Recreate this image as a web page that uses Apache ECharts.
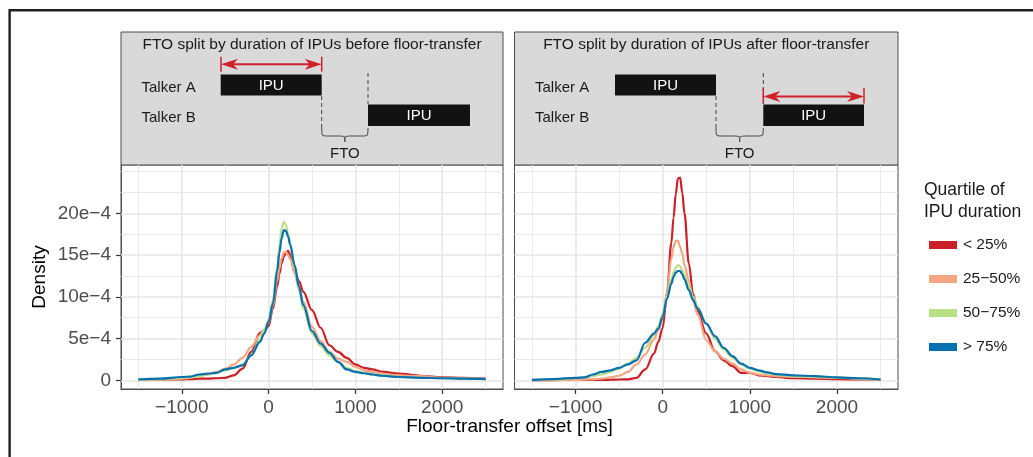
<!DOCTYPE html>
<html><head><meta charset="utf-8">
<script src="https://cdn.jsdelivr.net/npm/echarts@6.0.0/dist/echarts.min.js"></script>
<style>html,body{margin:0;padding:0;background:#fff}#c{width:1033px;height:457px}</style>
</head><body><div id="c"></div>
<script>
// ---- data (density values in units of 1e-4) ----
const offsetsMs = [-1500,-1250,-1000,-900,-800,-700,-600,-500,-400,-300,-200,-100,-50,0,50,100,125,150,175,200,225,250,300,350,400,500,600,700,800,900,1000,1100,1200,1300,1500,1750,2000,2250,2500];

const beforeLt25  = [0.1,0.1,0.1,0.15,0.2,0.2,0.25,0.3,0.6,1.4,3.4,5.7,6.0,6.5,8.6,11.3,12.8,14.0,14.8,15.3,15.5,15.0,13.0,11.9,10.6,8.4,6.3,4.2,3.4,2.7,1.9,1.5,1.3,1.05,0.8,0.55,0.35,0.3,0.2];
const before25_50 = [0.05,0.1,0.2,0.3,0.5,0.7,1.0,1.4,1.9,2.7,4.0,5.4,6.1,6.9,8.9,12.0,13.4,14.6,15.3,15.4,15.0,14.5,12.8,11.0,9.4,6.4,4.7,3.4,2.6,2.2,1.6,1.2,1.0,0.8,0.6,0.5,0.3,0.25,0.2];
const before50_75 = [0.1,0.15,0.3,0.4,0.5,0.7,0.9,1.2,1.5,1.9,3.0,4.9,6.0,7.3,9.6,13.6,16.2,18.2,19.0,18.6,17.6,16.3,13.4,10.8,8.6,5.6,4.1,3.0,2.2,1.5,1.1,0.9,0.7,0.6,0.4,0.3,0.25,0.2,0.15];
const beforeGt75  = [0.1,0.2,0.4,0.45,0.7,0.8,0.9,1.3,1.5,1.8,3.0,4.6,5.6,7.0,9.2,13.2,15.3,17.0,18.0,17.9,17.2,16.2,13.8,11.2,9.0,5.9,4.4,3.3,2.2,1.3,1.0,0.85,0.7,0.55,0.4,0.3,0.25,0.2,0.15];

const afterLt25   = [0.02,0.03,0.05,0.05,0.05,0.05,0.07,0.1,0.12,0.3,1.3,3.2,4.6,6.3,10.5,16.5,19.5,22.3,24.2,24.3,22.5,20.0,14.0,10.3,8.3,5.6,3.5,2.4,1.7,0.9,0.9,0.6,0.5,0.4,0.25,0.2,0.15,0.1,0.1];
const after25_50  = [0.02,0.03,0.05,0.08,0.12,0.2,0.35,0.55,1.0,1.9,3.1,4.9,6.0,7.5,10.5,14.6,16.0,16.7,16.7,16.0,15.2,13.8,11.9,9.5,7.9,4.8,3.5,2.6,2.0,1.3,0.9,0.7,0.6,0.5,0.45,0.35,0.3,0.2,0.1];
const after50_75  = [0.05,0.1,0.25,0.35,0.5,0.7,1.0,1.4,2.0,2.7,3.9,5.4,6.5,8.0,10.0,12.0,12.9,13.5,13.8,13.7,13.2,12.6,11.2,10.0,8.8,6.8,5.0,3.7,2.7,1.9,1.4,1.1,0.85,0.7,0.5,0.4,0.35,0.2,0.1];
const afterGt75   = [0.05,0.15,0.3,0.35,0.7,1.0,1.2,1.5,1.9,2.4,4.5,5.6,6.2,7.6,9.8,11.6,12.4,12.9,13.1,13.1,12.7,12.1,10.8,9.6,8.6,6.8,5.3,3.9,2.9,2.0,1.5,1.2,0.95,0.75,0.6,0.5,0.35,0.25,0.1];

const seriesNames = ['< 25%', '25\u221250%', '50\u221275%', '> 75%'];
const seriesColors = ['#CB2027', '#F4A582', '#B8E186', '#0571B0'];
const panelTitles = ['FTO split by duration of IPUs before floor-transfer', 'FTO split by duration of IPUs after floor-transfer'];

const xTickValues = [-1000, 0, 1000, 2000];
const xTickLabels = ['\u22121000', '0', '1000', '2000'];
const yTickValues = [0, 5, 10, 15, 20];
const yTickLabels = ['0', '5e\u22124', '10e\u22124', '15e\u22124', '20e\u22124'];
const xMajorGrid = [-1000, 0, 1000, 2000];
const xMinorGrid = [-1500, -500, 500, 1500, 2500];
const yMajorGrid = [0, 5, 10, 15, 20];
const yMinorGrid = [2.5, 7.5, 12.5, 17.5, 22.5, 25];

// ---- build ----
const FONT = 'Liberation Sans, Arial, Helvetica, sans-serif';
const panels = [
  [beforeLt25, before25_50, before50_75, beforeGt75],
  [afterLt25, after25_50, after50_75, afterGt75]
];
const gridBoxes = [
  {left: 121, top: 165, width: 382, height: 224},
  {left: 514.5, top: 165, width: 383.5, height: 224}
];

function gridLines() {
  const d = [];
  xMajorGrid.forEach(v => d.push({xAxis: v, lineStyle: {width: 1.6}}));
  xMinorGrid.forEach(v => d.push({xAxis: v, lineStyle: {width: 0.9}}));
  yMajorGrid.forEach(v => d.push({yAxis: v, lineStyle: {width: 1.6}}));
  yMinorGrid.forEach(v => d.push({yAxis: v, lineStyle: {width: 0.9}}));
  return d;
}

const series = [];
panels.forEach((arrs, p) => {
  arrs.forEach((arr, k) => {
    const s = {
      type: 'line', name: seriesNames[k], xAxisIndex: p, yAxisIndex: p,
      data: offsetsMs.map((x, i) => [x, arr[i]]),
      showSymbol: false, symbol: 'none', smooth: 0.35, smoothMonotone: 'x',
      color: seriesColors[k], lineStyle: {width: 2.2, color: seriesColors[k]},
      z: 3, animation: false, silent: true
    };
    if (k === 0) {
      s.markLine = {
        silent: true, symbol: ['none', 'none'], z: 1, animation: false,
        label: {show: false}, emphasis: {disabled: true},
        lineStyle: {color: '#E6E6E6', type: 'solid', opacity: 1},
        data: gridLines()
      };
    }
    series.push(s);
  });
});

const xAxes = [0, 1].map(p => ({
  type: 'value', gridIndex: p, min: -1700, max: 2700, position: 'bottom',
  axisLine: {show: true, onZero: false, lineStyle: {color: '#4D4D4D', width: 1}}, splitLine: {show: false},
  axisTick: {show: true, length: 5, lineStyle: {color: '#333', width: 1.2}, customValues: xTickValues},
  axisLabel: {show: true, customValues: xTickValues, margin: 9, fontSize: 19, color: '#4D4D4D', fontFamily: FONT,
    formatter: v => { const i = xTickValues.indexOf(v); return i >= 0 ? xTickLabels[i] : ''; }}
}));
const yAxes = [0, 1].map(p => ({
  type: 'value', gridIndex: p, min: -1.04, max: 25.8, position: 'left',
  axisLine: {show: true, onZero: false, lineStyle: {color: '#4D4D4D', width: 1}}, splitLine: {show: false},
  axisTick: {show: p === 0, length: 5, lineStyle: {color: '#333', width: 1.2}, customValues: yTickValues},
  axisLabel: {show: p === 0, customValues: yTickValues, margin: 10, fontSize: 19, color: '#4D4D4D', fontFamily: FONT,
    formatter: v => { const i = yTickValues.indexOf(v); return i >= 0 ? yTickLabels[i] : ''; }},
  name: p === 0 ? 'Density' : '', nameLocation: 'middle', nameGap: 72,
  nameTextStyle: {fontSize: 19, color: '#000', fontFamily: FONT}
}));

// ---- strip illustrations ----
function brace(x1, x2, yTop, yMid, yTip) {
  const c = (x1 + x2) / 2;
  const st = {stroke: '#555', lineWidth: 1.1, fill: null};
  return [
    {type: 'bezierCurve', shape: {x1: x1, y1: yTop, cpx1: x1, cpy1: yMid, cpx2: x1, cpy2: yMid, x2: x1 + 6, y2: yMid}, style: st},
    {type: 'line', shape: {x1: x1 + 6, y1: yMid, x2: c - 5, y2: yMid}, style: st},
    {type: 'bezierCurve', shape: {x1: c - 5, y1: yMid, cpx1: c, cpy1: yMid, cpx2: c, cpy2: yMid, x2: c, y2: yTip}, style: st},
    {type: 'bezierCurve', shape: {x1: c + 5, y1: yMid, cpx1: c, cpy1: yMid, cpx2: c, cpy2: yMid, x2: c, y2: yTip}, style: st},
    {type: 'line', shape: {x1: c + 5, y1: yMid, x2: x2 - 6, y2: yMid}, style: st},
    {type: 'bezierCurve', shape: {x1: x2, y1: yTop, cpx1: x2, cpy1: yMid, cpx2: x2, cpy2: yMid, x2: x2 - 6, y2: yMid}, style: st}
  ];
}
function arrow(x1, x2, y, capTop, capBot, col) {
  const h = 5.5, L = 17, n = 12;
  return [
    {type: 'line', shape: {x1: x1 + 8, y1: y, x2: x2 - 8, y2: y}, style: {stroke: col, lineWidth: 2}},
    {type: 'polygon', shape: {points: [[x1, y], [x1 + L, y - h], [x1 + n, y], [x1 + L, y + h]]}, style: {fill: col}},
    {type: 'polygon', shape: {points: [[x2, y], [x2 - L, y - h], [x2 - n, y], [x2 - L, y + h]]}, style: {fill: col}},
    {type: 'line', shape: {x1: x1, y1: capTop, x2: x1, y2: capBot}, style: {stroke: col, lineWidth: 1.5}},
    {type: 'line', shape: {x1: x2, y1: capTop, x2: x2, y2: capBot}, style: {stroke: col, lineWidth: 1.5}}
  ];
}
function txt(x, y, t, size, fill, align) {
  return {type: 'text', x: x, y: y, style: {text: t, fontSize: size, fill: fill, fontFamily: FONT, align: align || 'center', verticalAlign: 'middle'}};
}
function strip(cfg) {
  const els = [];
  els.push({type: 'rect', shape: {x: cfg.x0, y: 32, width: cfg.x1 - cfg.x0, height: 133}, style: {fill: '#D9D9D9', stroke: '#4D4D4D', lineWidth: 1}});
  els.push(txt((cfg.x0 + cfg.x1) / 2, 45, cfg.title, 15.5, '#1A1A1A'));
  els.push(txt(cfg.talkX, 87.5, 'Talker A', 15, '#1A1A1A', 'left'));
  els.push(txt(cfg.talkX, 117.5, 'Talker B', 15, '#1A1A1A', 'left'));
  els.push({type: 'rect', shape: {x: cfg.a[0], y: 74.5, width: cfg.a[1] - cfg.a[0], height: 21}, style: {fill: '#121212'}});
  els.push({type: 'rect', shape: {x: cfg.b[0], y: 104.5, width: cfg.b[1] - cfg.b[0], height: 21.5}, style: {fill: '#121212'}});
  els.push(txt((cfg.a[0] + cfg.a[1]) / 2, 85.5, 'IPU', 15, '#FFFFFF'));
  els.push(txt((cfg.b[0] + cfg.b[1]) / 2, 115.5, 'IPU', 15, '#FFFFFF'));
  els.push({type: 'line', shape: {x1: cfg.a[1], y1: 96, x2: cfg.a[1], y2: 129}, style: {stroke: '#444', lineWidth: 1, lineDash: [4, 3]}});
  els.push({type: 'line', shape: {x1: cfg.b[0], y1: 73, x2: cfg.b[0], y2: 104}, style: {stroke: '#444', lineWidth: 1, lineDash: [4, 3]}});
  brace(cfg.a[1], cfg.b[0], 128, 136, 142).forEach(e => els.push(e));
  els.push(txt((cfg.a[1] + cfg.b[0]) / 2, 154, 'FTO', 15, '#1A1A1A'));
  arrow(cfg.arr[0], cfg.arr[1], cfg.arr[2], cfg.arr[3], cfg.arr[4], '#D0202A').forEach(e => els.push(e));
  return els;
}

const graphics = [].concat(
  strip({x0: 121, x1: 503, title: panelTitles[0], talkX: 141.5, a: [220.7, 321.7], b: [368, 470], arr: [221, 321.7, 64.3, 56.7, 71.7]}),
  strip({x0: 514.5, x1: 898, title: panelTitles[1], talkX: 535, a: [615, 716], b: [763.3, 864], arr: [763.3, 864, 96.5, 88, 103.5]}),
  [
    {type: 'polyline', shape: {points: [[9.6, 457], [9.6, 10.2], [1033, 10.2]]}, style: {stroke: '#231F20', lineWidth: 2.4, fill: null}},
    txt(509.5, 427, 'Floor-transfer offset [ms]', 19, '#000'),
    {type: 'text', x: 924, y: 179, style: {text: 'Quartile of\nIPU duration', fontSize: 17.5, lineHeight: 22, fill: '#1A1A1A', fontFamily: FONT, align: 'left', verticalAlign: 'top'}}
  ]
);

const option = {
  animation: false,
  backgroundColor: '#FFFFFF',
  textStyle: {fontFamily: FONT},
  grid: gridBoxes.map(g => Object.assign({show: true, backgroundColor: '#FFFFFF', borderColor: '#4D4D4D', borderWidth: 1, containLabel: false}, g)),
  xAxis: xAxes,
  yAxis: yAxes,
  legend: {
    orient: 'vertical', left: 924, top: 231, itemWidth: 28, itemHeight: 8, itemGap: 16,
    icon: 'rect', selectedMode: false, data: seriesNames,
    textStyle: {fontSize: 15.5, color: '#1A1A1A', lineHeight: 18, padding: [0, 0, 0, 1], fontFamily: FONT}
  },
  graphic: graphics,
  series: series
};

const chart = echarts.init(document.getElementById('c'), null, {renderer: 'canvas'});
chart.setOption(option);
</script>
</body></html>
